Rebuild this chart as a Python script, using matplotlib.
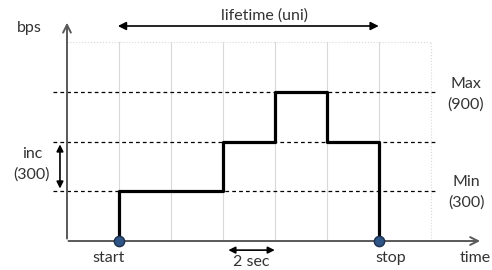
import matplotlib.pyplot as plt

# rate profile: time (s) -> bps
t_steps = [2, 2, 6, 8, 10, 12]
bps_steps = [0, 300, 600, 900, 600, 0]
grid_t = [2, 4, 6, 8, 10, 12, 14]
levels = [300, 600, 900]
start_t, stop_t = 2, 12
inc = 300

plt.rcParams['font.family'] = ['Lato', 'DejaVu Sans']
txt = '#333333'
fs = 11.5
fig = plt.figure(figsize=(4.92, 2.70), dpi=100)
ax = fig.add_axes([0, 0, 1, 1])
ax.set_xlim(-2.577, 16.35)
ax.set_ylim(-175, 1455)
ax.axis('off')

# light grid
for g in grid_t:
    ax.plot([g, g], [0, 1200], color='#d9d9d9', lw=0.8, ls='-' if g < 14 else ':', zorder=1)
ax.plot([0, 14], [1200, 1200], color='#d9d9d9', lw=0.8, ls=':', zorder=1)

# dashed level lines
for lv in levels:
    ax.plot([-0.55, 14.15], [lv, lv], color='black', lw=0.9, ls=(0, (3, 2.5)), zorder=2)

# axes with arrows
ax.annotate('', xy=(0, 1335), xytext=(0, -2),
            arrowprops=dict(arrowstyle='->', color='#595959', lw=1.4, mutation_scale=14))
ax.annotate('', xy=(16.0, 0), xytext=(-0.05, 0),
            arrowprops=dict(arrowstyle='->', color='#595959', lw=1.4, mutation_scale=14))

# step profile
ax.step(t_steps, bps_steps, where='post', color='black', lw=2.3, zorder=4)
ax.scatter([start_t, stop_t], [0, 0], s=55, color='#2f5486', edgecolor='#1c2f4d', lw=1.0, zorder=5)

# lifetime arrow
ax.annotate('', xy=(1.85, 1298), xytext=(12.1, 1298),
            arrowprops=dict(arrowstyle='<|-|>', color='black', lw=1.2, mutation_scale=12))
ax.text(7.6, 1362, 'lifetime (uni)', ha='center', va='center', fontsize=fs, color=txt)

# inc arrow
ax.annotate('', xy=(-0.27, levels[1]), xytext=(-0.27, levels[0]),
            arrowprops=dict(arrowstyle='<|-|>', color='black', lw=1.2, mutation_scale=10))
ax.text(-1.35, 528, 'inc', ha='center', va='center', fontsize=fs, color=txt)
ax.text(-1.35, 400, '(%d)' % inc, ha='center', va='center', fontsize=fs, color=txt)

# 2 sec arrow
ax.annotate('', xy=(6.1, -55), xytext=(8.1, -55),
            arrowprops=dict(arrowstyle='<|-|>', color='black', lw=1.2, mutation_scale=10))
ax.text(7.1, -128, '2 sec', ha='center', va='center', fontsize=fs, color=txt)

# labels
ax.text(-1.45, 1285, 'bps', ha='center', va='center', fontsize=fs, color=txt)
ax.text(15.35, 945, 'Max', ha='center', va='center', fontsize=fs, color=txt)
ax.text(15.35, 825, '(900)', ha='center', va='center', fontsize=fs, color=txt)
ax.text(15.35, 355, 'Min', ha='center', va='center', fontsize=fs, color=txt)
ax.text(15.35, 230, '(300)', ha='center', va='center', fontsize=fs, color=txt)
ax.text(1.6, -100, 'start', ha='center', va='center', fontsize=fs, color=txt)
ax.text(12.45, -100, 'stop', ha='center', va='center', fontsize=fs, color=txt)
ax.text(15.7, -100, 'time', ha='center', va='center', fontsize=fs, color=txt)

fig.savefig('out.png', dpi=100)
